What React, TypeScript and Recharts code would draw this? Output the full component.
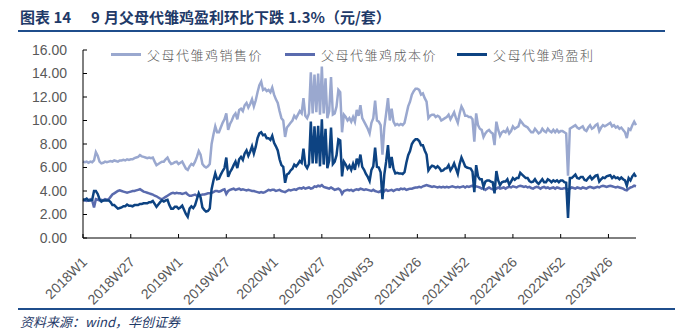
import React from "react";
import { CartesianGrid, Line, LineChart, XAxis, YAxis } from "recharts";

// weeks per year shown on the axis (2023 stops at W41)
const YEAR_WEEKS: [number, number][] = [
  [2018, 52], [2019, 52], [2020, 53], [2021, 52], [2022, 52], [2023, 41],
];

const Y_TICKS = [0, 2, 4, 6, 8, 10, 12, 14, 16];

// 父母代雏鸡销售价 (元/套)
const sales2018 = [6.5, 6.45, 6.5, 6.4, 6.5, 6.45, 6.6, 7.3, 7.0, 6.5, 6.35, 6.4, 6.5, 6.45, 6.5, 6.55, 6.5, 6.6, 6.55, 6.5, 6.6, 6.6, 6.65, 6.6, 6.7, 6.65, 6.7, 6.7, 6.8, 6.85, 6.9, 7.05, 6.95, 6.9, 6.85, 6.8, 6.85, 6.8, 6.85, 6.5, 6.2, 6.3, 6.4, 6.5, 6.5, 6.7, 6.85, 6.5, 6.3, 6.35, 6.45, 6.5];
const sales2019 = [6.3, 6.4, 6.5, 6.2, 5.9, 5.8, 6.1, 6.3, 6.2, 6.5, 6.9, 7.4, 7.1, 6.3, 6.1, 6.0, 6.1, 6.3, 8.0, 8.8, 9.5, 9.0, 9.0, 9.4, 9.8, 10.1, 10.6, 9.2, 9.7, 10.0, 10.4, 10.6, 10.1, 10.9, 11.0, 10.8, 11.3, 11.5, 11.1, 11.4, 11.8, 11.2, 11.7, 12.4, 13.0, 13.3, 12.6, 12.7, 12.5, 12.6, 12.4, 12.8];
const sales2020 = [12.2, 11.8, 11.5, 10.8, 10.2, 10.0, 8.6, 9.4, 9.6, 9.8, 10.0, 10.4, 10.2, 10.5, 10.8, 10.6, 11.9, 10.4, 10.2, 10.6, 14.1, 10.6, 13.9, 10.7, 14.0, 10.5, 14.6, 10.6, 13.6, 10.2, 10.8, 13.7, 10.5, 10.6, 11.2, 12.6, 12.4, 9.0, 10.5, 10.3, 10.0, 10.2, 9.9, 10.3, 9.9, 10.9, 10.4, 11.3, 10.2, 9.9, 9.6, 9.3, 8.9];
const sales2021 = [9.8, 10.2, 11.7, 10.0, 9.9, 9.6, 7.1, 9.4, 10.6, 11.9, 10.0, 11.0, 9.9, 9.6, 9.7, 9.6, 9.7, 9.6, 9.8, 10.5, 11.2, 11.6, 12.2, 12.5, 12.7, 12.7, 12.6, 12.2, 12.3, 11.9, 11.6, 10.2, 10.4, 10.5, 10.5, 10.3, 10.4, 10.3, 10.0, 10.1, 10.2, 10.3, 10.5, 10.1, 10.4, 10.7, 10.2, 9.8, 10.6, 11.2, 10.9, 10.4];
const sales2022 = [10.4, 10.3, 10.3, 10.1, 8.2, 10.6, 9.6, 9.3, 9.2, 8.6, 8.9, 9.1, 9.2, 9.0, 8.9, 7.9, 9.9, 9.2, 8.7, 9.0, 9.1, 9.0, 9.3, 8.9, 9.1, 9.5, 9.3, 9.4, 9.5, 10.0, 9.8, 9.6, 9.5, 9.4, 9.2, 9.0, 9.0, 9.3, 9.1, 8.9, 9.0, 9.3, 9.1, 9.0, 9.3, 9.1, 9.0, 9.2, 9.0, 9.2, 9.0, 9.1];
const sales2023 = [9.1, 9.0, 8.9, 5.3, 9.3, 9.4, 9.5, 9.6, 9.4, 9.3, 9.4, 9.5, 9.2, 9.1, 9.4, 9.6, 9.3, 9.4, 9.6, 9.7, 9.1, 9.4, 9.6, 9.5, 9.6, 9.7, 9.8, 9.5, 9.6, 9.4, 9.5, 9.3, 9.4, 9.2, 9.0, 8.5, 9.3, 9.2, 9.6, 9.9, 9.6];

// 父母代雏鸡成本价
const cost2018 = [3.2, 3.2, 3.15, 3.2, 3.3, 3.2, 2.6, 3.3, 3.25, 3.2, 3.25, 3.2, 3.3, 3.25, 3.3, 3.5, 3.7, 3.8, 3.9, 4.0, 4.05, 4.0, 3.95, 3.9, 3.85, 3.9, 3.95, 4.0, 4.0, 4.05, 4.1, 4.15, 4.05, 3.95, 3.9, 3.85, 3.8, 3.75, 3.7, 3.6, 3.55, 3.45, 3.35, 3.3, 3.4, 3.5, 3.6, 3.7, 3.8, 3.85, 3.8, 3.85];
const cost2019 = [3.8, 3.8, 3.75, 3.8, 3.85, 3.7, 3.6, 3.6, 3.65, 3.7, 3.6, 3.6, 3.65, 3.7, 3.7, 3.75, 3.8, 3.8, 3.85, 3.9, 4.0, 4.0, 3.95, 4.0, 4.1, 4.15, 3.75, 4.0, 4.1, 4.15, 4.2, 4.1, 4.15, 4.2, 4.1, 4.15, 4.1, 4.05, 4.1, 4.05, 4.0, 4.0, 3.95, 3.9, 3.85, 3.9, 3.85, 3.9, 4.0, 4.1, 4.05, 4.1];
const cost2020 = [4.1, 4.0, 4.05, 4.1, 4.0, 3.95, 3.9, 4.0, 4.1, 4.05, 4.1, 4.15, 4.1, 4.2, 4.25, 4.2, 4.3, 4.2, 4.25, 4.3, 4.2, 4.25, 4.4, 4.35, 4.45, 4.4, 4.5, 4.35, 4.3, 4.25, 4.2, 4.3, 4.2, 4.1, 4.15, 4.2, 4.1, 3.75, 4.0, 4.05, 4.1, 4.05, 4.1, 4.0, 4.1, 4.15, 4.1, 4.2, 4.15, 4.1, 4.15, 4.1, 4.05];
const cost2021 = [4.0, 4.1, 4.0, 3.95, 3.9, 4.0, 3.8, 4.0, 4.1, 4.0, 4.05, 4.1, 4.0, 4.1, 4.15, 4.1, 4.2, 4.15, 4.2, 4.1, 4.15, 4.2, 4.2, 4.25, 4.3, 4.3, 4.35, 4.3, 4.4, 4.45, 4.5, 4.45, 4.4, 4.35, 4.4, 4.35, 4.3, 4.35, 4.3, 4.35, 4.3, 4.35, 4.3, 4.35, 4.4, 4.35, 4.3, 4.35, 4.3, 4.35, 4.4, 4.3];
const cost2022 = [4.4, 4.35, 4.4, 4.45, 4.3, 4.4, 4.35, 4.3, 4.2, 4.25, 4.1, 4.2, 4.3, 4.2, 4.15, 4.1, 4.2, 4.3, 4.2, 4.25, 4.3, 4.2, 4.3, 4.35, 4.3, 4.4, 4.35, 4.3, 4.4, 4.45, 4.4, 4.35, 4.4, 4.3, 4.35, 4.25, 4.2, 4.3, 4.35, 4.3, 4.2, 4.3, 4.35, 4.25, 4.3, 4.2, 4.25, 4.3, 4.2, 4.3, 4.25, 4.2];
const cost2023 = [4.2, 4.25, 4.2, 4.1, 4.2, 4.3, 4.25, 4.2, 4.3, 4.25, 4.2, 4.3, 4.25, 4.2, 4.3, 4.35, 4.3, 4.25, 4.3, 4.35, 4.3, 4.4, 4.45, 4.4, 4.35, 4.4, 4.45, 4.4, 4.35, 4.3, 4.35, 4.3, 4.25, 4.2, 4.1, 4.05, 4.2, 4.3, 4.35, 4.45, 4.4];

// 父母代雏鸡盈利
const profit2018 = [3.3, 3.25, 3.35, 3.2, 3.2, 3.25, 4.0, 4.0, 3.75, 3.3, 3.1, 3.2, 3.2, 3.2, 3.2, 3.05, 2.8, 2.8, 2.65, 2.5, 2.55, 2.6, 2.7, 2.7, 2.85, 2.75, 2.75, 2.7, 2.8, 2.8, 2.8, 2.9, 2.9, 2.95, 2.95, 2.95, 3.05, 3.05, 3.15, 2.9, 2.65, 2.85, 3.05, 3.2, 3.1, 3.2, 3.25, 2.8, 2.5, 2.5, 2.65, 2.65];
const profit2019 = [2.5, 2.6, 2.75, 2.4, 2.05, 1.8, 2.5, 2.7, 2.55, 2.8, 3.3, 3.8, 3.45, 2.6, 2.4, 2.25, 2.3, 2.5, 4.15, 4.9, 5.5, 5.0, 5.05, 5.4, 5.7, 5.95, 6.85, 5.2, 5.6, 5.85, 6.2, 6.5, 5.95, 6.7, 6.9, 6.65, 7.2, 7.45, 7.0, 7.35, 7.8, 7.2, 7.75, 8.5, 8.9, 9.0, 8.75, 8.8, 8.5, 8.5, 8.35, 8.7];
const profit2020 = [8.1, 7.8, 7.45, 6.7, 6.2, 6.05, 4.7, 5.4, 5.5, 5.75, 5.9, 6.25, 6.1, 6.3, 6.55, 6.4, 7.6, 6.2, 5.95, 6.3, 9.9, 6.35, 9.5, 6.35, 9.55, 6.1, 10.1, 6.25, 9.3, 5.95, 6.6, 9.4, 6.3, 6.5, 7.05, 8.4, 8.3, 5.25, 6.5, 6.25, 5.9, 6.15, 5.8, 6.3, 5.8, 6.75, 6.3, 7.1, 6.05, 5.8, 5.45, 5.2, 4.85];
const profit2021 = [5.8, 6.1, 7.7, 6.05, 6.0, 5.6, 3.3, 5.4, 6.5, 7.9, 5.95, 6.9, 5.9, 5.5, 5.55, 5.5, 5.5, 5.45, 5.6, 6.4, 7.05, 7.4, 8.0, 8.25, 8.4, 8.4, 8.25, 7.9, 7.9, 7.45, 7.1, 5.75, 6.0, 6.15, 6.1, 5.95, 6.1, 5.95, 5.7, 5.75, 5.9, 5.95, 6.2, 5.75, 6.0, 6.35, 5.9, 5.45, 6.3, 6.85, 6.5, 6.1];
const profit2022 = [6.0, 5.95, 5.9, 5.65, 3.9, 6.2, 5.25, 5.0, 5.0, 4.35, 4.8, 4.9, 4.9, 4.8, 4.75, 3.8, 5.7, 4.9, 4.5, 4.75, 4.8, 4.8, 5.0, 4.55, 4.8, 5.1, 4.95, 5.1, 5.1, 5.55, 5.4, 5.25, 5.1, 5.1, 4.85, 4.75, 4.8, 5.0, 4.75, 4.6, 4.8, 5.0, 4.75, 4.75, 5.0, 4.9, 4.75, 4.9, 4.8, 4.9, 4.75, 4.9];
const profit2023 = [4.9, 4.75, 4.7, 1.7, 5.1, 5.1, 5.25, 5.4, 5.1, 5.05, 5.2, 5.2, 4.95, 4.9, 5.1, 5.25, 5.0, 5.15, 5.3, 5.35, 4.8, 5.0, 5.15, 5.1, 5.25, 5.3, 5.35, 5.1, 5.25, 5.1, 5.15, 5.0, 5.15, 5.0, 4.9, 4.45, 5.1, 4.9, 5.25, 5.45, 5.2];

const sales = [...sales2018, ...sales2019, ...sales2020, ...sales2021, ...sales2022, ...sales2023];
const cost = [...cost2018, ...cost2019, ...cost2020, ...cost2021, ...cost2022, ...cost2023];
const profit = [...profit2018, ...profit2019, ...profit2020, ...profit2021, ...profit2022, ...profit2023];

const weeks: string[] = [];
YEAR_WEEKS.forEach(([y, n]) => {
  for (let w = 1; w <= n; w++) weeks.push(`${y}W${w}`);
});

const data = weeks.map((week, i) => ({
  week, sales: sales[i], cost: cost[i], profit: profit[i],
}));

const C_SALES = "#9AA8CF";
const C_COST = "#5A6BAE";
const C_PROFIT = "#0D4382";
const NAVY = "#1F3A68";
const GREY = "#595959";

const PLOT_LEFT = 83;
const PLOT_BOTTOM = 238;

const YTick = (props: any) => {
  const { y, payload } = props;
  return (
    <g>
      <line x1={PLOT_LEFT} x2={PLOT_LEFT + 4} y1={y} y2={y} stroke="#000" />
      <text x={PLOT_LEFT - 16} y={y} dy="0.35em" textAnchor="end" fill={GREY}
        fontSize={14} fontFamily="'Liberation Sans', Arial, sans-serif">
        {Number(payload.value).toFixed(2)}
      </text>
    </g>
  );
};

const XTick = (props: any) => {
  const { x, payload } = props;
  const ax = x + 5;
  const ay = 263;
  return (
    <g>
      <line x1={x} x2={x} y1={PLOT_BOTTOM} y2={PLOT_BOTTOM - 4} stroke="#000" />
      <text x={ax} y={ay} transform={`rotate(-45 ${ax} ${ay})`} textAnchor="end" fill={GREY}
        fontSize={14} fontFamily="'Liberation Sans', Arial, sans-serif">
        {payload.value}
      </text>
    </g>
  );
};

const legendItems = [
  { name: "父母代雏鸡销售价", color: C_SALES, left: 111 },
  { name: "父母代雏鸡成本价", color: C_COST, left: 285 },
  { name: "父母代雏鸡盈利", color: C_PROFIT, left: 457 },
];

export default function App() {
  return (
    <div style={{ position: "fixed", left: 0, top: 0, width: 675, height: 331, background: "#fff", overflow: "hidden" }}>
      <div style={{
        position: "absolute", left: 20, top: 7, whiteSpace: "pre", color: NAVY,
        fontFamily: "'Noto Sans CJK SC', sans-serif", fontWeight: 700, fontSize: 15, lineHeight: "20px",
      }}>
        <span>图表 14</span>
        <span style={{ marginLeft: 20 }}>9</span>
        <span style={{ marginLeft: 4 }}>月父母代雏鸡盈利环比下跌</span>
        <span style={{ marginLeft: 4 }}>1.3%（元/套）</span>
      </div>
      <div style={{ position: "absolute", left: 18, top: 30, width: 647, height: 2, background: "#1F4E8C" }} />

      <LineChart width={675} height={331} data={data} margin={{ top: 50, right: 39, bottom: 33, left: 23 }}>
        <CartesianGrid stroke="none" />
        <XAxis dataKey="week" interval={25} height={60} tickLine={false} axisLine={{ stroke: "#000" }} tick={<XTick />} />
        <YAxis width={60} domain={[0, 16]} ticks={Y_TICKS} tickLine={false} axisLine={{ stroke: "#000" }} tick={<YTick />} />
        <Line dataKey="sales" stroke={C_SALES} strokeWidth={2.5} dot={false} isAnimationActive={false} />
        <Line dataKey="cost" stroke={C_COST} strokeWidth={2.5} dot={false} isAnimationActive={false} />
        <Line dataKey="profit" stroke={C_PROFIT} strokeWidth={2.5} dot={false} isAnimationActive={false} />
      </LineChart>

      {legendItems.map((it) => (
        <div key={it.name} style={{ position: "absolute", left: it.left, top: 45, height: 18, display: "flex", alignItems: "center" }}>
          <div style={{ width: 30, height: 3, background: it.color }} />
          <span style={{
            marginLeft: 6, color: GREY, fontSize: 13, letterSpacing: 1.5,
            fontFamily: "'Noto Sans CJK SC', sans-serif", fontWeight: 300,
          }}>{it.name}</span>
        </div>
      ))}

      <div style={{ position: "absolute", left: 18, top: 308, width: 657, height: 2, background: "#1F4E8C" }} />
      <div style={{
        position: "absolute", left: 20, top: 313, color: NAVY, fontStyle: "italic", fontSize: 13,
        fontFamily: "'Noto Sans CJK SC', sans-serif", lineHeight: "18px",
      }}>
        资料来源：wind，华创证券
      </div>
    </div>
  );
}
